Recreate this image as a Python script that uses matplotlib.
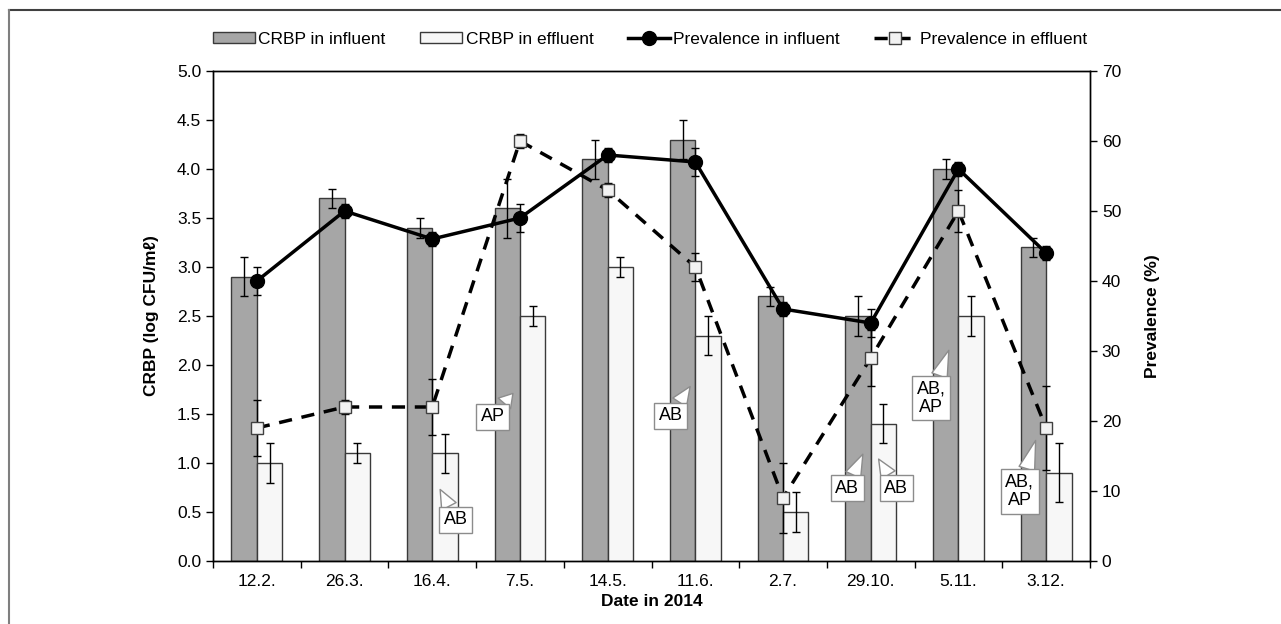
import numpy as np
import matplotlib
matplotlib.use("Agg")
import matplotlib.pyplot as plt
from matplotlib.lines import Line2D

plt.rcParams['font.family'] = ['Liberation Sans', 'DejaVu Sans']

# data
dates = ["12.2.", "26.3.", "16.4.", "7.5.", "14.5.", "11.6.", "2.7.", "29.10.", "5.11.", "3.12."]
crbp_inf = [2.9, 3.7, 3.4, 3.6, 4.1, 4.3, 2.7, 2.5, 4.0, 3.2]
crbp_inf_err = [0.2, 0.1, 0.1, 0.3, 0.2, 0.2, 0.1, 0.2, 0.1, 0.1]
crbp_eff = [1.0, 1.1, 1.1, 2.5, 3.0, 2.3, 0.5, 1.4, 2.5, 0.9]
crbp_eff_err = [0.2, 0.1, 0.2, 0.1, 0.1, 0.2, 0.2, 0.2, 0.2, 0.3]
prev_inf = [40, 50, 46, 49, 58, 57, 36, 34, 56, 44]
prev_inf_err = [2, 1, 1, 2, 1, 2, 1, 2, 1, 1]
prev_eff = [19, 22, 22, 60, 53, 42, 9, 29, 50, 19]
prev_eff_err = [4, 1, 4, 1, 1, 2, 5, 4, 3, 6]

# callouts: (category, text, box dx, box y, tip dx, tip y) in left-axis units
callouts = [
    (3, "AP", -0.31, 1.47, -0.08, 1.71),
    (2, "AB", 0.27, 0.42, 0.09, 0.73),
    (5, "AB", -0.28, 1.48, -0.06, 1.78),
    (7, "AB", -0.27, 0.74, -0.09, 1.09),
    (7, "AB", 0.29, 0.74, 0.09, 1.04),
    (8, "AB,\nAP", -0.31, 1.66, -0.11, 2.15),
    (9, "AB,\nAP", -0.30, 0.71, -0.12, 1.23),
]

x = np.arange(len(dates))
w = 0.29

fig = plt.figure(figsize=(12.81, 6.24), dpi=100)
ax = fig.add_axes([213/1281, 1-561/624, 877/1281, 490/624])
ax2 = ax.twinx()

ax.bar(x - w/2, crbp_inf, w, color="#a6a6a6", edgecolor="#3a3a3a", lw=1,
       label="CRBP in influent", zorder=2)
ax.bar(x + w/2, crbp_eff, w, color="#f7f7f7", edgecolor="#3a3a3a", lw=1,
       label="CRBP in effluent", zorder=2)
ax.errorbar(x - w/2, crbp_inf, yerr=crbp_inf_err, fmt="none", ecolor="black",
            elinewidth=1, capsize=3, zorder=3)
ax.errorbar(x + w/2, crbp_eff, yerr=crbp_eff_err, fmt="none", ecolor="black",
            elinewidth=1, capsize=3, zorder=3)

ax2.errorbar(x, prev_inf, yerr=prev_inf_err, fmt="none", ecolor="black",
             elinewidth=1, capsize=3, zorder=3)
ax2.errorbar(x, prev_eff, yerr=prev_eff_err, fmt="none", ecolor="black",
             elinewidth=1, capsize=3, zorder=3)
ax2.plot(x, prev_inf, color="black", lw=2.5, marker="o", ms=10,
         mfc="black", mec="black", label="Prevalence in influent", zorder=4)
ax2.plot(x, prev_eff, color="black", lw=2.5, ls=(0, (3.8, 2.8)), marker="s", ms=9,
         mfc="#f2f2f2", mec="#404040", mew=1, label="Prevalence in effluent", zorder=4)

for i, txt, bdx, by, tdx, ty in callouts:
    ax2.annotate(txt, xy=(i + tdx, ty), xycoords=ax.transData,
                 xytext=(i + bdx, by), textcoords=ax.transData,
                 ha="center", va="center", fontsize=13, zorder=6, linespacing=1.1,
                 bbox=dict(boxstyle="square,pad=0.25", fc="white", ec="#8c8c8c", lw=1),
                 arrowprops=dict(arrowstyle="wedge,tail_width=0.9,shrink_factor=0.5",
                                 fc="white", ec="#8c8c8c", lw=1,
                                 shrinkA=0, shrinkB=0))

ax.set_xlim(-0.5, len(dates) - 0.5)
ax.set_ylim(0, 5)
ax2.set_ylim(0, 70)
ax.set_yticks(np.arange(0, 5.01, 0.5))
ax.set_yticklabels([f"{v:.1f}" for v in np.arange(0, 5.01, 0.5)])
ax2.set_yticks(np.arange(0, 71, 10))
ax.set_xticks(np.arange(-0.5, len(dates), 1.0))
ax.set_xticklabels([])
ax.set_xticks(x, minor=True)
ax.set_xticklabels(dates, minor=True)
ax.tick_params(axis="x", which="minor", length=0, pad=9, labelsize=12.5)
ax.tick_params(axis="x", which="major", length=5, width=1)
ax.tick_params(axis="y", length=5, width=1, labelsize=12.5)
ax2.tick_params(axis="y", length=5, width=1, labelsize=12.5)

for a in (ax, ax2):
    for s in a.spines.values():
        s.set_linewidth(1)
        s.set_color("black")

ax.set_ylabel("CRBP (log CFU/mℓ)", fontsize=12.5, fontweight="bold", labelpad=13)
ax2.set_ylabel("Prevalence (%)", fontsize=12.5, fontweight="bold", labelpad=17)
ax.set_xlabel("Date in 2014", fontsize=12.5, fontweight="bold", labelpad=4)

h1, l1 = ax.get_legend_handles_labels()
h2, l2 = ax2.get_legend_handles_labels()
fig.legend(h1 + h2, l1 + l2, loc="center", bbox_to_anchor=(650/1281, 1-39/624),
           ncol=4, frameon=False, fontsize=12.5, handlelength=2.4, handleheight=0.6,
           handletextpad=0.2, columnspacing=2.0)

# partial outer frame
fig.add_artist(Line2D([9/1281, 1.01], [1-10/624, 1-10/624], color="#404040", lw=1.5))
fig.add_artist(Line2D([9/1281, 9/1281], [-0.01, 1-10/624], color="#7f7f7f", lw=1.5))

fig.savefig("out.png", dpi=100)
